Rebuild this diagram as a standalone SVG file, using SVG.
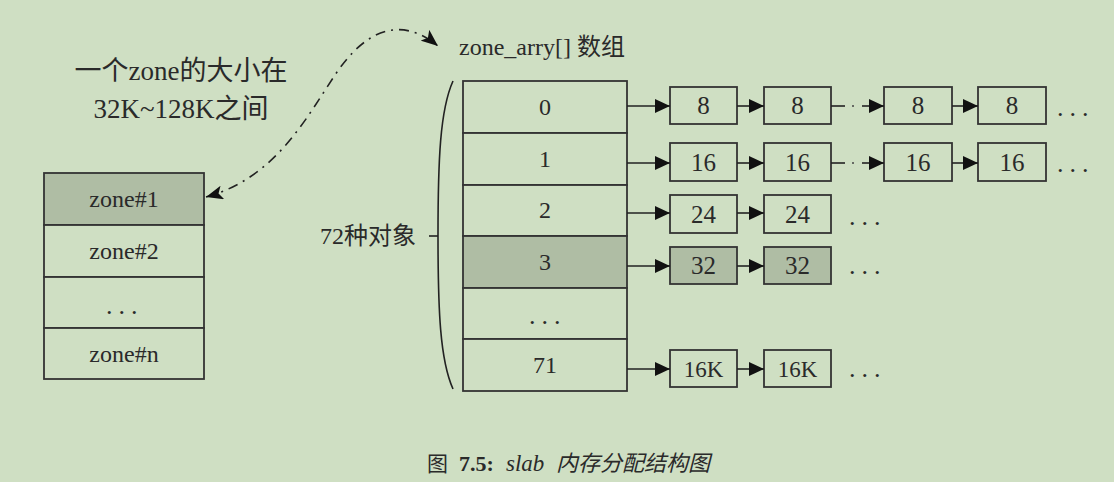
<svg xmlns="http://www.w3.org/2000/svg" width="1114" height="482" viewBox="0 0 1114 482">
<style>
.bg{fill:#cfdfc3}
.cell{fill:#cfdfc3;stroke:#333;stroke-width:1.8}
.shade{fill:#afbda4}
.t{font-family:"Liberation Serif","Noto Sans CJK SC",serif;fill:#2a2a2a;text-anchor:middle}
.cjk{font-family:"Liberation Serif","Noto Sans CJK SC",serif;fill:#2a2a2a}
.dots{font-family:"Liberation Serif",serif;fill:#2a2a2a;font-size:26px;letter-spacing:6px}
.ln{stroke:#222;stroke-width:1.6;fill:none}
.arr{stroke:#222;stroke-width:1.6;fill:none;marker-end:url(#ah)}
</style>
<defs>
<marker id="ah" markerUnits="userSpaceOnUse" markerWidth="16" markerHeight="14" refX="15" refY="7" orient="auto" viewBox="0 0 16 14">
<path d="M0,0 L15,7 L0,14 z" fill="#111"/>
</marker>
<marker id="ch" markerUnits="userSpaceOnUse" markerWidth="18" markerHeight="14" refX="17" refY="7" orient="auto-start-reverse" viewBox="0 0 18 14">
<path d="M0,0 L17,7 L0,14 L4,7 z" fill="#111"/>
</marker>
</defs>
<rect class="bg" x="0" y="0" width="1114" height="482"/>

<g id="title-left">
<text class="t" x="181" y="80" font-size="27">一个zone的大小在</text>
<text class="t" x="181" y="118" font-size="27">32K~128K之间</text>
</g>

<g id="title-array">
<text class="cjk" x="459" y="55" font-size="24">zone_arry[] 数组</text>
</g>

<g id="zones">
<rect class="cell shade" x="44" y="173" width="160" height="52"/>
<rect class="cell" x="44" y="225" width="160" height="52"/>
<rect class="cell" x="44" y="277" width="160" height="51"/>
<rect class="cell" x="44" y="328" width="160" height="51"/>
<text class="t" x="124" y="207" font-size="24">zone#1</text>
<text class="t" x="124" y="259" font-size="24">zone#2</text>
<text class="dots" x="106" y="314">...</text>
<text class="t" x="124" y="362" font-size="24">zone#n</text>
</g>

<g id="array">
<rect class="cell" x="463" y="81" width="164" height="52"/>
<rect class="cell" x="463" y="133" width="164" height="52"/>
<rect class="cell" x="463" y="185" width="164" height="51"/>
<rect class="cell shade" x="463" y="236" width="164" height="52"/>
<rect class="cell" x="463" y="288" width="164" height="51"/>
<rect class="cell" x="463" y="339" width="164" height="52"/>
<text class="t" x="545" y="115" font-size="24">0</text>
<text class="t" x="545" y="167" font-size="24">1</text>
<text class="t" x="545" y="218" font-size="24">2</text>
<text class="t" x="545" y="270" font-size="24">3</text>
<text class="dots" x="529" y="324">...</text>
<text class="t" x="545" y="373" font-size="24">71</text>
</g>

<g id="brace">
<path class="ln" d="M453,81 C440,110 438,160 438,236 C438,310 440,360 453,389"/>
<line class="ln" x1="429" y1="236" x2="438" y2="236"/>
<text class="cjk" x="320" y="244" font-size="24">72种对象</text>
</g>

<g id="row0">
<rect class="cell" x="670" y="87" width="67" height="37"/>
<rect class="cell" x="764" y="87" width="67" height="37"/>
<rect class="cell" x="884" y="87" width="68" height="37"/>
<rect class="cell" x="978" y="87" width="68" height="37"/>
<text class="t" x="703.5" y="114" font-size="25">8</text>
<text class="t" x="797.5" y="114" font-size="25">8</text>
<text class="t" x="918" y="114" font-size="25">8</text>
<text class="t" x="1012" y="114" font-size="25">8</text>
<text class="dots" x="1057" y="116">...</text>
</g>
<g id="row1">
<rect class="cell" x="670" y="143" width="67" height="38"/>
<rect class="cell" x="764" y="143" width="67" height="38"/>
<rect class="cell" x="884" y="143" width="68" height="38"/>
<rect class="cell" x="978" y="143" width="68" height="38"/>
<text class="t" x="703.5" y="171" font-size="25">16</text>
<text class="t" x="797.5" y="171" font-size="25">16</text>
<text class="t" x="918" y="171" font-size="25">16</text>
<text class="t" x="1012" y="171" font-size="25">16</text>
<text class="dots" x="1057" y="172">...</text>
</g>
<g id="row2">
<rect class="cell" x="670" y="195" width="67" height="38"/>
<rect class="cell" x="764" y="195" width="67" height="38"/>
<text class="t" x="703.5" y="223" font-size="25">24</text>
<text class="t" x="797.5" y="223" font-size="25">24</text>
<text class="dots" x="849" y="225">...</text>
</g>
<g id="row3">
<rect class="cell shade" x="670" y="247" width="67" height="37"/>
<rect class="cell shade" x="764" y="247" width="67" height="37"/>
<text class="t" x="703.5" y="274" font-size="25">32</text>
<text class="t" x="797.5" y="274" font-size="25">32</text>
<text class="dots" x="849" y="274">...</text>
</g>
<g id="row71">
<rect class="cell" x="670" y="350" width="67" height="37"/>
<rect class="cell" x="764" y="350" width="67" height="37"/>
<text class="t" x="703.5" y="377" font-size="23">16K</text>
<text class="t" x="797.5" y="377" font-size="23">16K</text>
<text class="dots" x="849" y="377">...</text>
</g>

<g id="connectors">
<line class="arr" x1="627" y1="106" x2="670" y2="106"/>
<line class="arr" x1="627" y1="163" x2="670" y2="163"/>
<line class="arr" x1="627" y1="213" x2="670" y2="213"/>
<line class="arr" x1="627" y1="266" x2="670" y2="266"/>
<line class="arr" x1="627" y1="369" x2="670" y2="369"/>
<line class="arr" x1="737" y1="106" x2="764" y2="106"/>
<line class="arr" x1="737" y1="163" x2="764" y2="163"/>
<line class="arr" x1="737" y1="213" x2="764" y2="213"/>
<line class="arr" x1="737" y1="266" x2="764" y2="266"/>
<line class="arr" x1="737" y1="369" x2="764" y2="369"/>
<line class="arr" x1="952" y1="106" x2="978" y2="106"/>
<line class="arr" x1="952" y1="163" x2="978" y2="163"/>
<line class="ln" x1="831" y1="106" x2="845" y2="106"/>
<circle cx="853" cy="106" r="1" fill="#444"/>
<line class="arr" x1="862" y1="106" x2="884" y2="106"/>
<line class="ln" x1="831" y1="163" x2="845" y2="163"/>
<circle cx="853" cy="163" r="1" fill="#444"/>
<line class="arr" x1="862" y1="163" x2="884" y2="163"/>
<path d="M206,197 C275,178 305,120 335,75 C365,30 400,15 438,46" fill="none" stroke="#222" stroke-width="1.6" stroke-dasharray="10 6 2 6" marker-start="url(#ch)" marker-end="url(#ch)"/>
</g>

<g id="caption">
<text x="427" y="471" font-size="21" class="cjk">图</text>
<text x="459" y="471" font-size="22" font-family="Liberation Serif, serif" font-weight="bold" fill="#2a2a2a">7.5:</text>
<text x="506" y="471" font-size="23" font-family="Liberation Serif, serif" font-style="italic" fill="#2a2a2a">slab</text>
<text x="556" y="471" font-size="22" class="cjk" font-style="italic">内存分配结构图</text>
</g>
</svg>
